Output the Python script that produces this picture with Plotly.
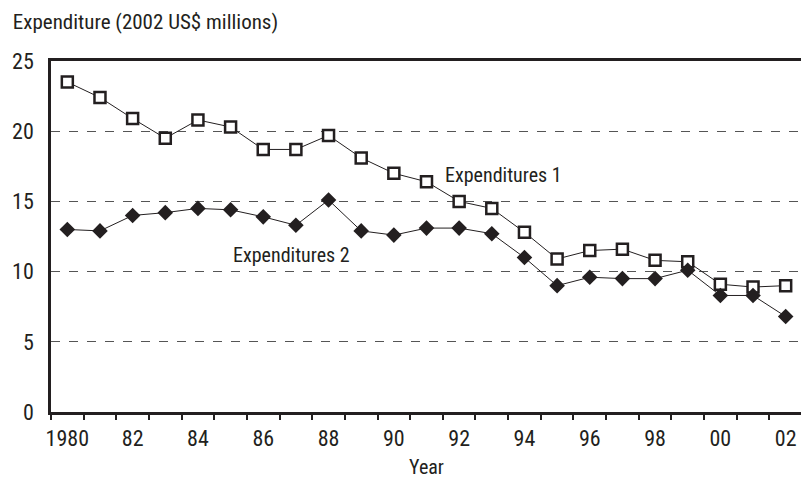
import plotly.graph_objects as go

years = list(range(1980, 2003))
exp1 = [23.5, 22.4, 20.9, 19.5, 20.8, 20.3, 18.7, 18.7, 19.7, 18.1, 17.0, 16.4,
        15.0, 14.5, 12.8, 10.9, 11.5, 11.6, 10.8, 10.7, 9.1, 8.9, 9.0]
exp2 = [13.0, 12.9, 14.0, 14.2, 14.5, 14.4, 13.9, 13.3, 15.1, 12.9, 12.6, 13.1,
        13.1, 12.7, 11.0, 9.0, 9.6, 9.5, 9.5, 10.1, 8.3, 8.3, 6.8]
tick_years = [1980, 1982, 1984, 1986, 1988, 1990, 1992, 1994, 1996, 1998, 2000, 2002]
tick_text = ["1980", "82", "84", "86", "88", "90", "92", "94", "96", "98", "00", "02"]

FONT = "Roboto Condensed, Liberation Sans Narrow, DejaVu Sans Condensed, Roboto, sans-serif"
INK = "#231f20"

fig = go.Figure()
fig.add_trace(go.Scatter(
    x=years, y=exp1, mode="lines+markers", name="Expenditures 1",
    line=dict(color=INK, width=1),
    marker=dict(symbol="square", size=11, color="white", line=dict(color=INK, width=2.5)),
))
fig.add_trace(go.Scatter(
    x=years, y=exp2, mode="lines+markers", name="Expenditures 2",
    line=dict(color=INK, width=1),
    marker=dict(symbol="diamond", size=12, color=INK, line=dict(width=0)),
))

fig.add_annotation(x=1991.5, y=16.9, text="Expenditures 1", showarrow=False,
                   xanchor="left", font=dict(size=20, color=INK))
fig.add_annotation(x=1985.0, y=11.15, text="Expenditures 2", showarrow=False,
                   xanchor="left", font=dict(size=20, color=INK))

# page body adds an 8px margin, so the figure is 8px smaller than the window
fig.update_layout(
    width=801, height=471,
    margin=dict(l=37, r=4, t=53, b=65),
    paper_bgcolor="white", plot_bgcolor="white",
    showlegend=False,
    font=dict(family=FONT, size=20, color=INK),
    title=dict(text="Expenditure (2002 US$ millions)", x=0.006, xanchor="left",
               y=0.972, yanchor="middle", font=dict(size=21)),
)
fig.update_xaxes(
    range=[1979.5, 2002.5], tickvals=tick_years, ticktext=tick_text,
    ticks="", showgrid=False, showline=True, linecolor=INK, linewidth=2.5,
    mirror=True, tickfont=dict(size=22), ticklabeloverflow="allow",
    ticklabelstandoff=5,
    minor=dict(tickvals=[y - 0.5 for y in years] + [2002.5], ticks="outside",
               ticklen=5, tickcolor=INK, tickwidth=1.5, showgrid=False),
    title=dict(text="Year", font=dict(size=20), standoff=10),
)
fig.update_yaxes(
    range=[0, 25], dtick=5, ticks="", showline=True, linecolor=INK, linewidth=2.5,
    mirror=True, showgrid=True, gridcolor="#555", gridwidth=1, griddash="dash",
    zeroline=False, tickfont=dict(size=22), ticklabelstandoff=10,
)

fig.write_html("out.html")
